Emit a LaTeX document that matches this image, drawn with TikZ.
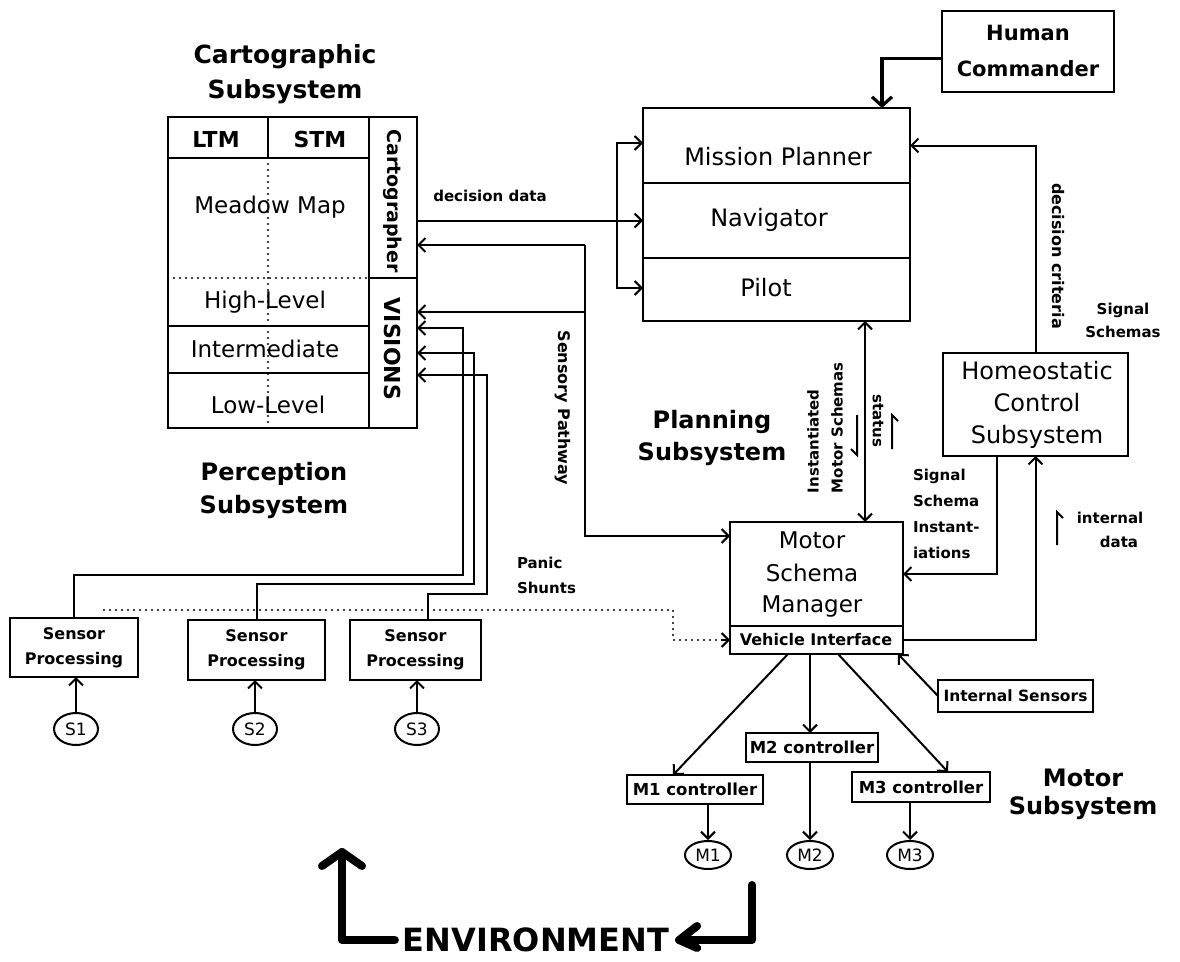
\documentclass[tikz,border=0pt]{standalone}
\usepackage{fontspec}
\setmainfont{DejaVu Sans}
\usetikzlibrary{arrows.meta,shapes.geometric,calc}
\newcommand{\myfs}[2]{\fontsize{#1}{#2}\selectfont}
\begin{document}
\begin{tikzpicture}[x=1pt,y=-1pt,
  box/.style={draw, line width=2, inner sep=0, outer sep=0},
  cell/.style={draw, line width=2, inner sep=0, outer sep=0},
  txt/.style={inner sep=0, outer sep=0, align=center},
  arr/.style={line width=2, -{Straight Barb[length=7pt,width=14pt,line width=2pt]}},
  darr/.style={line width=2, {Straight Barb[length=7pt,width=14pt,line width=2pt]}-{Straight Barb[length=7pt,width=14pt,line width=2pt]}},
  plain/.style={line width=2},
  panic/.style={line width=2.4, dash pattern=on 0pt off 6pt, line cap=round},
  cmdarr/.style={line width=3.2, -{Straight Barb[length=9pt,width=20pt]}},
  envarr/.style={line width=8, line cap=round, line join=round},
  sens/.style={draw, ellipse, line width=2, minimum width=44, minimum height=32, inner sep=0},
  mot/.style={draw, ellipse, line width=2, minimum width=46, minimum height=28, inner sep=0},
  small/.style={font={\myfs{16}{25}\bfseries}},
  ctrl/.style={box, minimum height=29, font={\myfs{16.5}{16.5}\bfseries}},
]
\useasboundingbox[fill=white] (0,0) rectangle (1180,961);

% ---------------- Cartographic subsystem ----------------
\node[txt, font={\myfs{25}{35}\bfseries}] (cartitle) at (285,74.5) {Cartographic\\Subsystem};
\node[cell, minimum width=100, minimum height=41] (ltm) at (218,137.5) {};
\node[cell, minimum width=101, minimum height=41] (stm) at (318.5,137.5) {};
\node[txt, font={\myfs{22}{22}\bfseries}] at (216,139) {LTM};
\node[txt, font={\myfs{22}{22}\bfseries}] at (320,139) {STM};
\node[cell, minimum width=48, minimum height=161] (carto) at (393,197.5) {};
\node[cell, minimum width=48, minimum height=150] (visions) at (393,353) {};
\node[txt, rotate=-90, font={\myfs{19}{19}\bfseries}] at (393,201) {Cartographer};
\node[txt, rotate=-90, font={\myfs{22}{22}\bfseries}] at (393,349) {VISIONS};
\node[cell, minimum width=201, minimum height=270] (memory) at (268.5,293) {};
\node[cell, minimum width=201, minimum height=47] (inter) at (268.5,349.5) {};
\draw[panic] (memory.west |- 0,278) -- (carto.west |- 0,278);
\draw[panic] (ltm.south east) -- (memory.south -| ltm.south east);
\node[txt, font={\myfs{23}{23}}] at (270,207) {Meadow Map};
\node[txt, font={\myfs{23}{23}}] at (265,302) {High-Level};
\node[txt, font={\myfs{23}{23}}] at (265,349) {Intermediate};
\node[txt, font={\myfs{23}{23}}] at (268,405) {Low-Level};

% ---------------- Planning subsystem ----------------
\node[cell, minimum width=267, minimum height=75] (mp) at (776.5,145.5) {};
\node[cell, minimum width=267, minimum height=75] (nav) at (776.5,220.5) {};
\node[cell, minimum width=267, minimum height=63] (pilot) at (776.5,289.5) {};
\node[txt, font={\myfs{24}{24}}] at (778,157) {Mission Planner};
\node[txt, font={\myfs{24}{24}}] at (769,220) {Navigator};
\node[txt, font={\myfs{24}{24}}] at (766,288) {Pilot};
\node[txt, font={\myfs{24}{32}\bfseries}] (plantitle) at (712,438) {Planning\\Subsystem};

\node[box, minimum width=172, minimum height=81] (hc) at (1028,51.5) {};
\node[txt, font={\myfs{21}{36}\bfseries}] at (1028,51) {Human\\Commander};
\draw[cmdarr] ([yshift=-7]hc.west) -| ([xshift=105.5]mp.north);

% decision data
\node[txt, font={\myfs{15}{15}\bfseries}] at (490,196) {decision data};
\coordinate (dd) at (617,220.5);
\draw[arr] (carto.east |- nav.west) -- (nav.west);
\draw[arr] (dd) |- (mp.west |- 0,143);
\draw[arr] (dd) |- (pilot.west |- 0,288);

% ---------------- Homeostatic ----------------
\node[box, minimum width=185, minimum height=103] (homeo) at (1035.5,404.5) {};
\node[txt, font={\myfs{24}{32}}] at (1037,405) {Homeostatic\\Control\\Subsystem};
\draw[arr] (homeo.north) |- (mp.east);
\node[txt, rotate=-90, font={\myfs{16}{16}\bfseries}] at (1058,256) {decision criteria};
\node[txt, font={\myfs{15}{23}\bfseries}] at (1123,320.5) {Signal\\Schemas};

% ---------------- Motor schema manager ----------------
\node[box, minimum width=173, minimum height=104] (msm) at (816.5,574) {};
\node[box, minimum width=173, minimum height=28] (vi) at (816.5,640) {};
\node[txt, font={\myfs{23}{32}}] at (812,575) {Motor\\Schema\\Manager};
\node[txt, font={\myfs{16}{16}\bfseries}] at (816,640) {Vehicle Interface};

\draw[darr] (pilot.south -| 865,0) -- (msm.north -| 865,0);
\node[txt, rotate=90, anchor=west, font={\myfs{15}{15}\bfseries}] at (813,493) {Instantiated};
\node[txt, rotate=90, anchor=west, font={\myfs{15}{15}\bfseries}] at (837,493) {Motor Schemas};
\node[txt, rotate=-90, font={\myfs{15}{15}\bfseries}] at (878,421) {status};
\draw[plain] (857,415) -- (857,455) -- (851,449);
\draw[plain] (892,449) -- (892,415) -- (898,421);

\draw[arr] ([xshift=-38.5]homeo.south) |- (msm.east);
\draw[arr] (vi.east) -| (homeo.south);
\node[txt, align=left, anchor=west, font={\myfs{15}{26}\bfseries}] at (913,514) {Signal\\Schema\\Instant-\\iations};
\draw[plain] (1057,545) -- (1057,512) -- (1063,518);
\node[txt, font={\myfs{15}{24}\bfseries}] at (1110,530) {internal\\\hspace*{18pt}data};

% ---------------- Sensory pathway ----------------
\coordinate (bus1) at (585,245);
\coordinate (bus2) at (585,312);
\coordinate (bus3) at (585,536);
\draw[arr] (bus1) -- (carto.east |- bus1);
\draw[arr] (bus2) -- (visions.east |- bus2);
\draw[arr] (bus1) -- (bus3) -- (msm.west |- bus3);
\node[txt, rotate=-90, font={\myfs{16}{16}\bfseries}] at (563,408) {Sensory Pathway};

\node[txt, font={\myfs{24}{33}\bfseries}] (perctitle) at (274,490) {Perception\\Subsystem};

% ---------------- Sensors ----------------
\node[box, minimum width=128, minimum height=59] (sp1) at (74,647.5) {};
\node[box, minimum width=137, minimum height=60] (sp2) at (256.5,650) {};
\node[box, minimum width=131, minimum height=60] (sp3) at (415.5,650) {};
\node[txt, small] at (sp1) {Sensor\\Processing};
\node[txt, small] at (sp2) {Sensor\\Processing};
\node[txt, small] at (sp3) {Sensor\\Processing};
\node[sens, font={\myfs{17}{17}}] (s1) at (76,729) {S1};
\node[sens, font={\myfs{17}{17}}] (s2) at (255,729) {S2};
\node[sens, font={\myfs{17}{17}}] (s3) at (417,729) {S3};
\draw[arr] (s1.north) -- (sp1.south -| s1.north);
\draw[arr] (s2.north) -- (sp2.south -| s2.north);
\draw[arr] (s3.north) -- (sp3.south -| s3.north);

\draw[arr] (sp1.north) |- (463,575) |- ([yshift=25]visions.east);
\draw[arr] (sp2.north) |- (474,584) |- (visions.east);
\draw[arr] ([xshift=12]sp3.north) |- (487,594) |- ([yshift=-22]visions.east);

\coordinate (ps) at (104,610);
\draw[panic] (ps) -| (673,640) -- ([xshift=-8]vi.west);
\draw[arr] ([xshift=-9]vi.west) -- (vi.west);
\node[txt, align=left, anchor=west, font={\myfs{15}{25}\bfseries}] at (517,575) {Panic\\Shunts};

% ---------------- Motor subsystem ----------------
\node[box, minimum width=155, minimum height=32, font={\myfs{15.5}{15.5}\bfseries}] (isens) at (1015.5,696) {Internal Sensors};
\draw[arr] (isens.west) -- ([xshift=-5]vi.south east);

\node[ctrl, minimum width=136] (m1c) at (695,789.5) {M1 controller};
\node[ctrl, minimum width=132] (m2c) at (812,747.5) {M2 controller};
\node[ctrl, minimum width=138, minimum height=30] (m3c) at (921,787) {M3 controller};
\draw[arr] ([xshift=-28.5]vi.south) -- ([xshift=-22]m1c.north);
\draw[arr] ([xshift=-6.5]vi.south) -- ([xshift=-2]m2c.north);
\draw[arr] ([xshift=21.5]vi.south) -- ([xshift=27]m3c.north);

\node[mot, font={\myfs{17}{17}}] (m1) at (708,855) {M1};
\node[mot, font={\myfs{17}{17}}] (m2) at (810,855) {M2};
\node[mot, font={\myfs{17}{17}}] (m3) at (910,855) {M3};
\draw[arr] (m1c.south -| m1.north) -- (m1.north);
\draw[arr] (m2c.south -| m2.north) -- (m2.north);
\draw[arr] (m3c.south -| m3.north) -- (m3.north);

\node[txt, font={\myfs{24}{28}\bfseries}] (mottitle) at (1083,794) {Motor\\Subsystem};

% ---------------- Environment ----------------
\node[txt, font={\myfs{32}{32}\bfseries}] (env) at (536,940) {ENVIRONMENT};
\coordinate (envL) at (342,852);
\coordinate (envR) at (752,885);
\draw[envarr] ([xshift=-8]env.west) -| (envL);
\draw[envarr] ([xshift=-20]envL |- 0,866) -- (envL) -- ([xshift=20]envL |- 0,866);
\draw[envarr] (envR) |- ([xshift=10]env.east);
\draw[envarr] ([xshift=28]env.east |- 0,926) -- ([xshift=10]env.east) -- ([xshift=28]env.east |- 0,948);
\end{tikzpicture}
\end{document}
